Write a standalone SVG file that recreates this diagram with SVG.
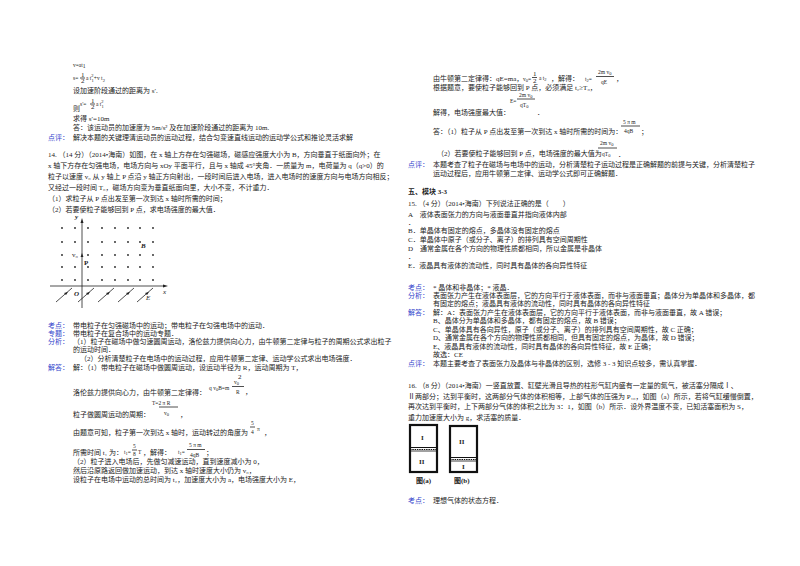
<svg xmlns="http://www.w3.org/2000/svg" width="800" height="566" viewBox="0 0 800 566">
<style>
text{font-family:"Liberation Serif","Noto Sans CJK SC",serif;font-size:7px;fill:#222}
.l{fill:#3344cc}
.b{font-weight:bold}
.s{font-size:5.5px}
.d{fill:#222}
.ln{stroke:#222;stroke-width:0.8;fill:none}
.cy{stroke:#111;stroke-width:2.2;fill:none}
</style>
<rect width="800" height="566" fill="#fff"/>
<g id="left">
<text x="73" y="67" class="s">v=at<tspan dy="1">1</tspan></text>
<text x="73" y="80" class="s">s=</text><text x="81" y="77" font-size="5">1</text><line class="ln" x1="80" y1="78" x2="85" y2="78"/><text x="81" y="83" font-size="5">2</text><text x="86" y="80" class="s">a t<tspan dy="-3" font-size="4.5">2</tspan><tspan dx="-2" dy="5" font-size="4.5">1</tspan><tspan dy="-2">+v t</tspan><tspan dy="2" font-size="4.5">2</tspan></text>
<text x="73" y="93">设加速阶段通过的距离为 s′.</text>
<text x="73" y="111">则</text>
<text x="80" y="106" class="s">s′=</text><text x="91" y="103" font-size="5">1</text><line class="ln" x1="90" y1="104" x2="95" y2="104"/><text x="91" y="109" font-size="5">2</text><text x="96" y="106" class="s">a t<tspan dy="-3" font-size="4.5">2</tspan><tspan dx="-2" dy="5" font-size="4.5">1</tspan></text>
<text x="73" y="121">求得 s′=10m</text>
<text x="73" y="130">答：该运动员的加速度为 5m/s² 及在加速阶段通过的距离为 10m.</text>
<text x="48" y="140"><tspan class="l">点评：</tspan><tspan x="73">解决本题的关键理清运动员的运动过程，结合匀变速直线运动的运动学公式和推论灵活求解</tspan></text>
<text x="48" y="157">14. （14 分）（2014•海南）如图，在 x 轴上方存在匀强磁场，磁感应强度大小为 B，方向垂直于纸面向外；在</text>
<text x="48" y="168">x 轴下方存在匀强电场，电场方向与 xOy 平面平行，且与 x 轴成 45°夹角．一质量为 m，电荷量为 q（q&gt;0）的</text>
<text x="48" y="179">粒子以速度 v₀ 从 y 轴上 P 点沿 y 轴正方向射出，一段时间后进入电场，进入电场时的速度方向与电场方向相反；</text>
<text x="48" y="190">又经过一段时间 T₀，磁场方向变为垂直纸面向里，大小不变，不计重力．</text>
<text x="48" y="201">（1）求粒子从 P 点出发至第一次到达 x 轴时所需的时间；</text>
<text x="48" y="212">（2）若要使粒子能够回到 P 点，求电场强度的最大值．</text>
<text x="48" y="328"><tspan class="l">考点：</tspan><tspan x="73">带电粒子在匀强磁场中的运动；带电粒子在匀强电场中的运动．</tspan></text>
<text x="48" y="336"><tspan class="l">专题：</tspan><tspan x="73">带电粒子在复合场中的运动专题．</tspan></text>
<text x="48" y="344"><tspan class="l">分析：</tspan><tspan x="73">（1）粒子在磁场中做匀速圆周运动，洛伦兹力提供向心力，由牛顿第二定律与粒子的周期公式求出粒子</tspan></text>
<text x="73" y="352">的运动时间．</text>
<text x="80" y="361">（2）分析清楚粒子在电场中的运动过程，应用牛顿第二定律、运动学公式求出电场强度．</text>
<text x="48" y="370"><tspan class="l">解答：</tspan><tspan x="73">解：（1）带电粒子在磁场中做圆周运动，设运动半径为 R，运动周期为 T，</tspan></text>
<text x="73" y="395">洛伦兹力提供向心力，由牛顿第二定律得：</text>
<text x="209" y="390" class="s">q v<tspan dy="1" font-size="4.5">0</tspan><tspan dy="-1">B=m</tspan></text>
<text x="234" y="384" class="s">v<tspan dy="1" font-size="4.5">0</tspan></text><text x="238" y="379" font-size="4.5">2</text>
<line class="ln" x1="232" y1="386.5" x2="244" y2="386.5"/><text x="236" y="394" class="s">R</text><text x="245" y="394">，</text>
<text x="152" y="405" class="s">T=2 π R</text><line class="ln" x1="159" y1="407" x2="178" y2="407"/>
<text x="164" y="415" class="s">v<tspan dy="1" font-size="4.5">0</tspan></text>
<text x="73" y="417">粒子做圆周运动的周期：</text><text x="180" y="417">，</text>
<text x="73" y="435">由题意可知，粒子第一次到达 x 轴时，运动转过的角度为</text>
<text x="251" y="425" class="s">5</text><line class="ln" x1="250" y1="427" x2="255" y2="427"/><text x="251" y="434" class="s">4</text><text x="257" y="431" class="s">π</text><text x="264" y="435">，</text>
<text x="73" y="455">所需时间 t₁ 为：</text>
<text x="124" y="454" class="s">t<tspan dy="1" font-size="4.5">1</tspan><tspan dy="-1">=</tspan></text><text x="133" y="448" class="s">5</text><line class="ln" x1="132" y1="450" x2="137" y2="450"/><text x="133" y="456" class="s">8</text><text x="138" y="454" class="s">T</text><text x="143" y="455">，解得：</text>
<text x="178" y="454" class="s">t<tspan dy="1" font-size="4.5">1</tspan><tspan dy="-1">=</tspan></text><text x="189" y="447" class="s">5 π m</text><line class="ln" x1="187" y1="449.5" x2="205" y2="449.5"/><text x="190" y="457" class="s">4qB</text><text x="206" y="455">；</text>
<text x="73" y="464">（2）粒子进入电场后，先做匀减速运动，直到速度减小为 0，</text>
<text x="73" y="473">然后沿原路返回做加速运动，到达 x 轴时速度大小仍为 v₀，</text>
<text x="73" y="482">设粒子在电场中运动的总时间为 t₂，加速度大小为 a，电场强度大小为 E，</text>
</g>
<g id="figure14">
<g class="d">
<circle cx="62" cy="228" r="0.9"/><circle cx="75" cy="228" r="0.9"/><circle cx="88" cy="228" r="0.9"/><circle cx="102" cy="228" r="0.9"/><circle cx="115" cy="228" r="0.9"/><circle cx="128" cy="228" r="0.9"/><circle cx="140" cy="228" r="0.9"/><circle cx="153" cy="228" r="0.9"/>
<circle cx="62" cy="242" r="0.9"/><circle cx="75" cy="242" r="0.9"/><circle cx="88" cy="242" r="0.9"/><circle cx="102" cy="242" r="0.9"/><circle cx="115" cy="242" r="0.9"/><circle cx="128" cy="242" r="0.9"/><circle cx="140" cy="242" r="0.9"/><circle cx="153" cy="242" r="0.9"/>
<circle cx="62" cy="255" r="0.9"/><circle cx="88" cy="255" r="0.9"/><circle cx="102" cy="255" r="0.9"/><circle cx="115" cy="255" r="0.9"/><circle cx="128" cy="255" r="0.9"/><circle cx="140" cy="255" r="0.9"/><circle cx="153" cy="255" r="0.9"/>
<circle cx="62" cy="267" r="0.9"/><circle cx="75" cy="267" r="0.9"/><circle cx="88" cy="267" r="0.9"/><circle cx="102" cy="267" r="0.9"/><circle cx="115" cy="267" r="0.9"/><circle cx="128" cy="267" r="0.9"/><circle cx="140" cy="267" r="0.9"/><circle cx="153" cy="267" r="0.9"/>
<circle cx="62" cy="280" r="0.9"/><circle cx="75" cy="280" r="0.9"/><circle cx="88" cy="280" r="0.9"/><circle cx="102" cy="280" r="0.9"/><circle cx="115" cy="280" r="0.9"/><circle cx="128" cy="280" r="0.9"/><circle cx="140" cy="280" r="0.9"/><circle cx="153" cy="280" r="0.9"/>
</g>
<line class="ln" x1="82" y1="222" x2="82" y2="308"/><path d="M82,218 L80.5,223 L83.5,223Z" class="d"/>
<line class="ln" x1="50" y1="286" x2="164" y2="286"/><path d="M168,286 L163,284.5 L163,287.5Z" class="d"/>
<g class="ln">
<line x1="56" y1="302" x2="72" y2="288"/><line x1="78" y1="302" x2="94" y2="288"/><line x1="98" y1="302" x2="114" y2="288"/><line x1="118" y1="302" x2="134" y2="288"/><line x1="137" y1="302" x2="153" y2="288"/>
</g>
<g class="d"><path d="M68,292 L64,293 L66,295Z"/><path d="M90,292 L86,293 L88,295Z"/><path d="M110,292 L106,293 L108,295Z"/><path d="M130,292 L126,293 L128,295Z"/><path d="M149,292 L145,293 L147,295Z"/><path d="M82,253 L80.6,257 L83.4,257Z"/></g>
<text x="75" y="219" font-style="italic" class="b">y</text>
<text x="141" y="248" font-style="italic" class="b">B</text>
<text x="72" y="257" font-size="5">v₀</text>
<text x="84" y="265" class="b">P</text>
<text x="74" y="296" font-style="italic" class="b">O</text>
<text x="146" y="300" font-style="italic">E</text>
<text x="163" y="294" font-style="italic">x</text>
</g>
<g id="right">
<text x="433" y="81">由牛顿第二定律得：qE=ma，</text>
<text x="523" y="81" class="s">v<tspan dy="1" font-size="4.5">0</tspan><tspan dy="-1">=</tspan></text><text x="533" y="76" font-size="5">1</text><line class="ln" x1="532" y1="77.5" x2="537" y2="77.5"/><text x="533" y="83" font-size="5">2</text><text x="539" y="80" class="s">a t<tspan dy="1" font-size="4.5">2</tspan></text><text x="551" y="81">，解得：</text>
<text x="585" y="81" class="s">t<tspan dy="1" font-size="4.5">2</tspan><tspan dy="-1">=</tspan></text><text x="598" y="74" class="s">2m v<tspan dy="1" font-size="4.5">0</tspan></text><line class="ln" x1="596" y1="76.5" x2="614" y2="76.5"/><text x="601" y="84" class="s">qE</text><text x="616" y="81">，</text>
<text x="433" y="90">根据题意，要使粒子能够回到 P 点，必须满足 t₂≥T₀，</text>
<text x="510" y="103" class="s">E=</text><text x="519" y="97" class="s">2m v<tspan dy="1" font-size="4.5">0</tspan></text><line class="ln" x1="517" y1="99" x2="535" y2="99"/><text x="520" y="107" class="s">qT<tspan dy="1" font-size="4.5">0</tspan></text>
<text x="433" y="115">解得，电场强度最大值：</text><text x="537" y="115">．</text>
<text x="433" y="134">答：（1）粒子从 P 点出发至第一次到达 x 轴时所需的时间为：</text>
<text x="623" y="124" class="s">5 π m</text><line class="ln" x1="621" y1="126" x2="640" y2="126"/><text x="624" y="133" class="s">4qB</text><text x="641" y="134">；</text>
<text x="437" y="156">（2）若要使粒子能够回到 P 点，电场强度的最大值为</text>
<text x="600" y="145" class="s">2m v<tspan dy="1" font-size="4.5">0</tspan></text><line class="ln" x1="598" y1="148" x2="617" y2="148"/><text x="602" y="156" class="s">qT<tspan dy="1" font-size="4.5">0</tspan></text><text x="618" y="157">．</text>
<text x="408" y="167"><tspan class="l">点评：</tspan><tspan x="433">本题考查了粒子在磁场与电场中的运动，分析清楚粒子运动过程是正确解题的前提与关键，分析清楚粒子</tspan></text>
<text x="433" y="176">运动过程后，应用牛顿第二定律、运动学公式即可正确解题．</text>
<text x="408" y="194" class="b">五、模块 3-3</text>
<text x="408" y="206">15. （4 分）（2014•海南）下列说法正确的是（　　）</text>
<text x="408" y="217">A　液体表面张力的方向与液面垂直并指向液体内部</text>
<text x="408" y="225">．</text>
<text x="408" y="233">B．单晶体有固定的熔点，多晶体没有固定的熔点</text>
<text x="408" y="242">C．单晶体中原子（或分子、离子）的排列具有空间周期性</text>
<text x="408" y="251">D　通常金属在各个方向的物理性质都相同，所以金属是非晶体</text>
<text x="408" y="259">．</text>
<text x="408" y="268">E．液晶具有液体的流动性，同时具有晶体的各向异性特征</text>
<text x="408" y="290"><tspan class="l">考点：</tspan><tspan x="433">* 晶体和非晶体；* 液晶．</tspan></text>
<text x="408" y="298"><tspan class="l">分析：</tspan><tspan x="433">表面张力产生在液体表面层，它的方向平行于液体表面，而非与液面垂直；晶体分为单晶体和多晶体，都</tspan></text>
<text x="433" y="306">有固定的熔点；液晶具有液体的流动性，同时具有晶体的各向异性特征</text>
<text x="408" y="315"><tspan class="l">解答：</tspan><tspan x="433">解：A：表面张力产生在液体表面层，它的方向平行于液体表面，而非与液面垂直，故 A 错误；</tspan></text>
<text x="433" y="323">B、晶体分为单晶体和多晶体，都有固定的熔点，故 B 错误；</text>
<text x="433" y="332">C、单晶体具有各向异性，原子（或分子、离子）的排列具有空间周期性，故 C 正确；</text>
<text x="433" y="340">D、通常金属在各个方向的物理性质都相同，但具有固定的熔点，为晶体，故 D 错误；</text>
<text x="433" y="349">E、液晶具有液体的流动性，同时具有晶体的各向异性特征，故 E 正确；</text>
<text x="433" y="357">故选：CE</text>
<text x="408" y="366"><tspan class="l">点评：</tspan><tspan x="433">本题主要考查了表面张力及晶体与非晶体的区别，选修 3 - 3 知识点较多，需认真掌握．</tspan></text>
<text x="408" y="388">16. （8 分）（2014•海南）一竖直放置、缸壁光滑且导热的柱形气缸内盛有一定量的氮气，被活塞分隔成Ⅰ、</text>
<text x="408" y="399">Ⅱ两部分；达到平衡时，这两部分气体的体积相等，上部气体的压强为 P₁₀，如图（a）所示，若将气缸缓慢倒置，</text>
<text x="408" y="409">再次达到平衡时，上下两部分气体的体积之比为 3：1，如图（b）所示．设外界温度不变，已知活塞面积为 S，</text>
<text x="408" y="420">重力加速度大小为 g，求活塞的质量．</text>
<text x="408" y="503"><tspan class="l">考点：</tspan><tspan x="433">理想气体的状态方程．</tspan></text>
</g>
<g id="cylA">
<rect class="cy" x="410" y="425" width="27" height="47"/>
<line x1="410" y1="447.5" x2="437" y2="447.5" stroke="#111" stroke-width="1"/>
<line x1="410" y1="449.5" x2="437" y2="449.5" stroke="#111" stroke-width="1" stroke-dasharray="1.5,0.8"/>
<line x1="410" y1="451" x2="437" y2="451" stroke="#111" stroke-width="0.8"/>
<text x="421" y="440" class="b">I</text><text x="419" y="464" class="b">II</text>
<text x="416" y="483" class="b">图(a)</text>
</g>
<g id="cylB">
<rect class="cy" x="450" y="426" width="27" height="46"/>
<line x1="450" y1="457.5" x2="477" y2="457.5" stroke="#111" stroke-width="1"/>
<line x1="450" y1="459.5" x2="477" y2="459.5" stroke="#111" stroke-width="1" stroke-dasharray="1.5,0.8"/>
<line x1="450" y1="461" x2="477" y2="461" stroke="#111" stroke-width="0.8"/>
<text x="459" y="444" class="b">II</text><text x="462" y="469" class="b">I</text>
<text x="454" y="483" class="b">图(b)</text>
</g>
</svg>
